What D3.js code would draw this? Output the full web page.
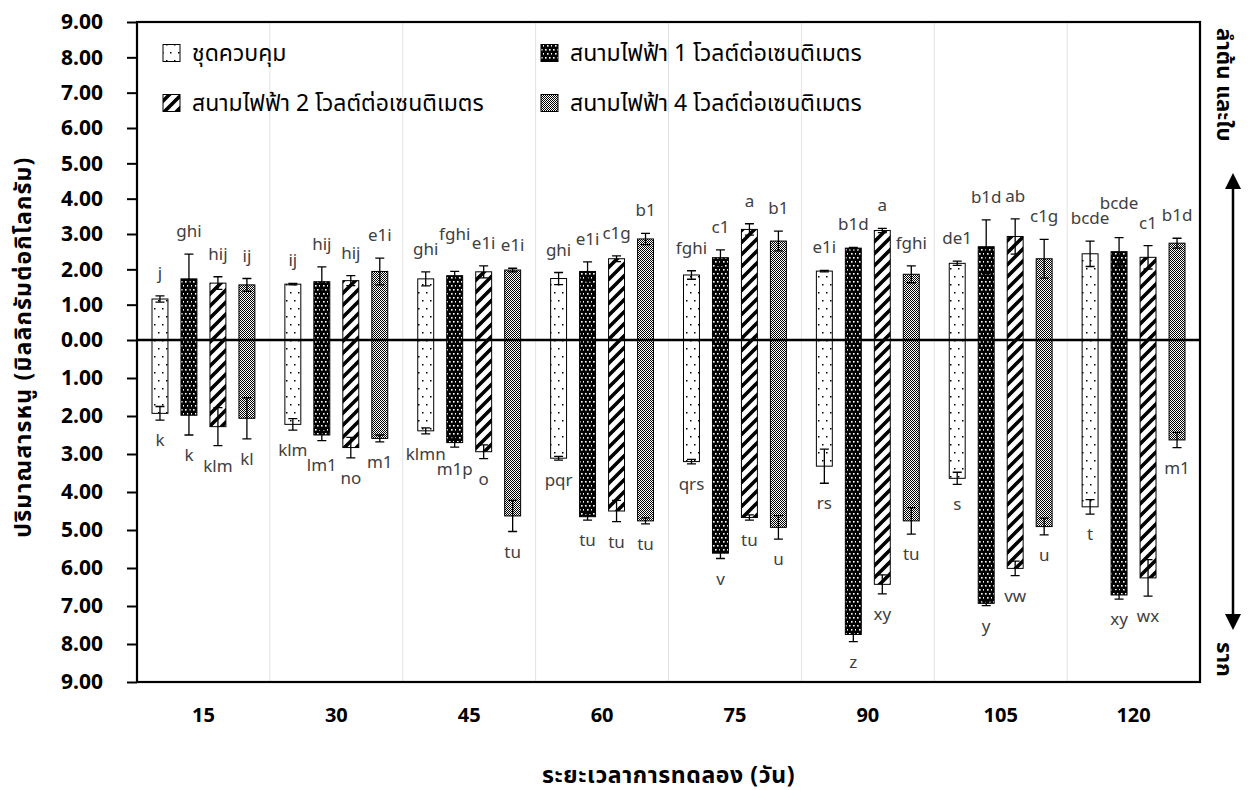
<!DOCTYPE html>
<html>
<head>
<meta charset="utf-8">
<script src="https://cdn.jsdelivr.net/npm/d3@7"></script>
<style>
  html, body { margin: 0; padding: 0; background: #fff; }
  svg { display: block; }
  text { font-family: "Noto Sans", "Noto Sans Thai", "Leelawadee UI", sans-serif; }
</style>
</head>
<body>
<svg id="chart" width="1253" height="790"></svg>
<script>
// Sampling days (groups on the x axis)
const categories = ["15", "30", "45", "60", "75", "90", "105", "120"];

// Treatments
const seriesNames = [
  "ชุดควบคุม",
  "สนามไฟฟ้า 1 โวลต์ต่อเซนติเมตร",
  "สนามไฟฟ้า 2 โวลต์ต่อเซนติเมตร",
  "สนามไฟฟ้า 4 โวลต์ต่อเซนติเมตร"
];

// Arsenic in stem + leaves (mg/kg), plotted upward
const shootControl = [1.16, 1.58, 1.73, 1.74, 1.84, 1.95, 2.17, 2.44];
const shootE1      = [1.73, 1.65, 1.82, 1.94, 2.33, 2.60, 2.64, 2.50];
const shootE2      = [1.61, 1.68, 1.93, 2.30, 3.13, 3.10, 2.93, 2.34];
const shootE4      = [1.56, 1.94, 1.98, 2.86, 2.80, 1.86, 2.30, 2.74];

const shootErrControl = [0.09, 0.02, 0.20, 0.17, 0.12, 0.02, 0.06, 0.36];
const shootErrE1      = [0.70, 0.42, 0.12, 0.27, 0.22, 0.02, 0.76, 0.40];
const shootErrE2      = [0.18, 0.14, 0.17, 0.08, 0.16, 0.06, 0.50, 0.33];
const shootErrE4      = [0.18, 0.38, 0.05, 0.16, 0.28, 0.24, 0.55, 0.14];

// Arsenic in roots (mg/kg), plotted downward
const rootControl = [1.93, 2.22, 2.39, 3.11, 3.20, 3.32, 3.64, 4.39];
const rootE1      = [1.98, 2.50, 2.70, 4.65, 5.61, 7.75, 6.93, 6.71];
const rootE2      = [2.28, 2.83, 2.94, 4.50, 4.67, 6.43, 6.01, 6.26];
const rootE4      = [2.06, 2.59, 4.63, 4.76, 4.93, 4.76, 4.91, 2.63];

const rootErrControl = [0.18, 0.15, 0.08, 0.05, 0.06, 0.45, 0.16, 0.19];
const rootErrE1      = [0.52, 0.15, 0.12, 0.09, 0.14, 0.19, 0.06, 0.11];
const rootErrE2      = [0.50, 0.27, 0.18, 0.28, 0.07, 0.25, 0.19, 0.48];
const rootErrE4      = [0.54, 0.09, 0.41, 0.08, 0.31, 0.35, 0.22, 0.20];

// Statistical grouping letters
const shootLetControl = ["j", "ij", "ghi", "ghi", "fghi", "e1i", "de1", "bcde"];
const shootLetE1      = ["ghi", "hij", "fghi", "e1i", "c1", "b1d", "b1d", "bcde"];
const shootLetE2      = ["hij", "hij", "e1i", "c1g", "a", "a", "ab", "c1"];
const shootLetE4      = ["ij", "e1i", "e1i", "b1", "b1", "fghi", "c1g", "b1d"];

const rootLetControl = ["k", "klm", "klmn", "pqr", "qrs", "rs", "s", "t"];
const rootLetE1      = ["k", "lm1", "m1p", "tu", "v", "z", "y", "xy"];
const rootLetE2      = ["klm", "no", "o", "tu", "tu", "xy", "vw", "wx"];
const rootLetE4      = ["kl", "m1", "tu", "tu", "u", "tu", "u", "m1"];

const axisTicks = [0, 1, 2, 3, 4, 5, 6, 7, 8, 9];

const xTitle = "ระยะเวลาการทดลอง (วัน)";
const yTitle = "ปริมาณสารหนู (มิลลิกรัมต่อกิโลกรัม)";
const upLabel = "ลำต้น และใบ";
const downLabel = "ราก";

// ---- build rows ----
const shoots = [shootControl, shootE1, shootE2, shootE4];
const shootErrs = [shootErrControl, shootErrE1, shootErrE2, shootErrE4];
const roots = [rootControl, rootE1, rootE2, rootE4];
const rootErrs = [rootErrControl, rootErrE1, rootErrE2, rootErrE4];
const shootLets = [shootLetControl, shootLetE1, shootLetE2, shootLetE4];
const rootLets = [rootLetControl, rootLetE1, rootLetE2, rootLetE4];

const rows = [];
categories.forEach((c, i) => {
  seriesNames.forEach((s, j) => {
    rows.push({
      cat: c, ci: i, series: s, si: j,
      shoot: shoots[j][i], shootErr: shootErrs[j][i], shootLet: shootLets[j][i],
      root: roots[j][i], rootErr: rootErrs[j][i], rootLet: rootLets[j][i]
    });
  });
});

// ---- layout ----
const svg = d3.select("#chart");
const plot = { left: 137, right: 1200, top: 22, zero: 340, bottom: 682 };

const x = d3.scaleBand().domain(categories).range([plot.left, plot.right]).padding(0);
const xs = d3.scaleBand().domain(seriesNames).range([15, x.bandwidth() - 15]).paddingInner(0.45).paddingOuter(0);
const yUp = d3.scaleLinear().domain([0, 9]).range([plot.zero, plot.top]);
const yDown = d3.scaleLinear().domain([0, 9]).range([plot.zero, plot.bottom]);

// ---- fill patterns ----
const defs = svg.append("defs");
const fills = ["url(#p-ctrl)", "url(#p-e1)", "url(#p-e2)", "url(#p-e4)"];

const pc = defs.append("pattern").attr("id", "p-ctrl").attr("patternUnits", "userSpaceOnUse")
  .attr("width", 8).attr("height", 16);
pc.append("rect").attr("width", 8).attr("height", 16).attr("fill", "#fff");
pc.append("rect").attr("x", 2).attr("y", 4).attr("width", 1.5).attr("height", 1.5).attr("fill", "#000");
pc.append("rect").attr("x", 6).attr("y", 12).attr("width", 1.5).attr("height", 1.5).attr("fill", "#000");

const p1 = defs.append("pattern").attr("id", "p-e1").attr("patternUnits", "userSpaceOnUse")
  .attr("width", 8).attr("height", 8);
p1.append("rect").attr("width", 8).attr("height", 8).attr("fill", "#000");
[[1, 1], [5, 1], [3, 5], [7, 5]].forEach(([a, b]) =>
  p1.append("rect").attr("x", a).attr("y", b).attr("width", 1.6).attr("height", 1.6).attr("fill", "#fff"));

const p2 = defs.append("pattern").attr("id", "p-e2").attr("patternUnits", "userSpaceOnUse")
  .attr("width", 12).attr("height", 12);
p2.append("rect").attr("width", 12).attr("height", 12).attr("fill", "#fff");
p2.append("path").attr("d", "M-3,3 L3,-3 M0,12 L12,0 M9,15 L15,9")
  .attr("stroke", "#000").attr("stroke-width", 3.6);

const p4 = defs.append("pattern").attr("id", "p-e4").attr("patternUnits", "userSpaceOnUse")
  .attr("width", 2).attr("height", 2);
p4.append("rect").attr("width", 2).attr("height", 2).attr("fill", "#fff");
p4.append("rect").attr("width", 1).attr("height", 1).attr("fill", "#000");
p4.append("rect").attr("x", 1).attr("y", 1).attr("width", 1).attr("height", 1).attr("fill", "#000");

// ---- vertical gridlines between groups ----
svg.append("g").selectAll("line").data(categories.slice(1)).join("line")
  .attr("x1", d => x(d)).attr("x2", d => x(d))
  .attr("y1", plot.top).attr("y2", plot.bottom)
  .attr("stroke", "#e3e3e3").attr("stroke-width", 1);

// ---- bars ----
const barG = svg.append("g");
const bx = d => x(d.cat) + xs(d.series);
const bw = xs.bandwidth();

barG.selectAll("rect.up").data(rows).join("rect").attr("class", "up")
  .attr("x", bx).attr("width", bw)
  .attr("y", d => yUp(d.shoot)).attr("height", d => yUp(0) - yUp(d.shoot))
  .attr("fill", d => fills[d.si]).attr("stroke", "#000").attr("stroke-width", 1);

barG.selectAll("rect.down").data(rows).join("rect").attr("class", "down")
  .attr("x", bx).attr("width", bw)
  .attr("y", yDown(0)).attr("height", d => yDown(d.root) - yDown(0))
  .attr("fill", d => fills[d.si]).attr("stroke", "#000").attr("stroke-width", 1);

// ---- error bars (±) ----
const cap = 4.5;
const errG = svg.append("g").attr("stroke", "#000").attr("stroke-width", 1.3).attr("fill", "none");
function errPath(cx, y1, y2) {
  return `M${cx},${y1}V${y2}M${cx - cap},${y1}H${cx + cap}M${cx - cap},${y2}H${cx + cap}`;
}
errG.selectAll("path.up").data(rows).join("path").attr("class", "up")
  .attr("d", d => errPath(bx(d) + bw / 2, yUp(d.shoot + d.shootErr), yUp(d.shoot - d.shootErr)));
errG.selectAll("path.down").data(rows).join("path").attr("class", "down")
  .attr("d", d => errPath(bx(d) + bw / 2, yDown(d.root - d.rootErr), yDown(d.root + d.rootErr)));

// ---- letter labels, staggered when neighbours collide ----
const letG = svg.append("g").attr("font-size", 17).attr("fill", "#404040").attr("text-anchor", "middle");
const upText = letG.selectAll("text.up").data(rows).join("text").attr("class", "up")
  .attr("x", d => bx(d) + bw / 2).text(d => d.shootLet);
const downText = letG.selectAll("text.down").data(rows).join("text").attr("class", "down")
  .attr("x", d => bx(d) + bw / 2).text(d => d.rootLet);

function stagger(sel, baseY, dir) {
  const items = sel.nodes().map(n => {
    const d = d3.select(n).datum();
    return { node: n, d, cx: bx(d) + bw / 2, w: n.getComputedTextLength(), y: baseY(d) };
  });
  d3.groups(items, it => it.d.ci).forEach(([, grp]) => {
    grp.sort((a, b) => a.d.si - b.d.si);
    for (let k = 1; k < grp.length; k++) {
      const a = grp[k - 1], b = grp[k];
      const hOverlap = Math.abs(b.cx - a.cx) < (a.w + b.w) / 2 + 1;
      if (hOverlap && Math.abs(b.y - a.y) < 15) b.y = a.y + dir * 15;
    }
  });
  items.forEach(it => d3.select(it.node).attr("y", it.y));
}
stagger(upText, d => yUp(d.shoot + d.shootErr) - 17, -1);
stagger(downText, d => yDown(d.root + d.rootErr) + 26, 1);

// ---- axes ----
const fmt = d3.format(".2f");
const axUp = svg.append("g").attr("transform", `translate(${plot.left},0)`)
  .call(d3.axisLeft(yUp).tickValues(axisTicks).tickSize(10).tickPadding(24).tickFormat(fmt));
const axDown = svg.append("g").attr("transform", `translate(${plot.left},0)`)
  .call(d3.axisLeft(yDown).tickValues(axisTicks.slice(1)).tickSize(10).tickPadding(24).tickFormat(fmt));
[axUp, axDown].forEach(g => {
  g.select(".domain").remove();
  g.selectAll(".tick line").attr("stroke", "#000").attr("stroke-width", 2);
  g.selectAll(".tick text").attr("font-size", 21).attr("font-weight", "bold")
    .attr("fill", "#000");
});

const axX = svg.append("g").attr("transform", `translate(0,${plot.bottom})`)
  .call(d3.axisBottom(x).tickSize(0).tickPadding(26));
axX.select(".domain").remove();
axX.selectAll(".tick text").attr("font-size", 20).attr("font-weight", "bold").attr("fill", "#000");

// frame, zero line
svg.append("rect").attr("x", plot.left).attr("y", plot.top)
  .attr("width", plot.right - plot.left).attr("height", plot.bottom - plot.top)
  .attr("fill", "none").attr("stroke", "#000").attr("stroke-width", 2.2);
svg.append("line").attr("x1", plot.left).attr("x2", plot.right)
  .attr("y1", yUp(0)).attr("y2", yUp(0)).attr("stroke", "#000").attr("stroke-width", 2.6);

// ---- legend ----
const legendPos = [[163, 53], [541, 53], [163, 103], [541, 103]];
const lg = svg.append("g");
seriesNames.forEach((s, j) => {
  const [lx, ly] = legendPos[j];
  lg.append("rect").attr("x", lx).attr("y", ly - 8.5).attr("width", 17).attr("height", 17)
    .attr("fill", fills[j]).attr("stroke", "#000").attr("stroke-width", 1);
  lg.append("text").attr("x", lx + 29).attr("y", ly + 8).attr("font-size", 23).attr("fill", "#000").text(s);
});

// ---- titles ----
svg.append("text").attr("x", (plot.left + plot.right) / 2).attr("y", 783)
  .attr("text-anchor", "middle").attr("font-size", 23).attr("font-weight", "bold")
  .attr("letter-spacing", 0.6).text(xTitle);
svg.append("text").attr("transform", "translate(31,347) rotate(-90)")
  .attr("text-anchor", "middle").attr("font-size", 23).attr("font-weight", "bold")
  .attr("letter-spacing", 1.2).text(yTitle);

// ---- right-side direction arrow ----
const ax0 = 1233;
svg.append("line").attr("x1", ax0).attr("x2", ax0).attr("y1", 185).attr("y2", 618)
  .attr("stroke", "#000").attr("stroke-width", 2.5);
svg.append("path").attr("d", `M${ax0},173 L${ax0 - 8},189 L${ax0 + 8},189 Z`).attr("fill", "#000");
svg.append("path").attr("d", `M${ax0},630 L${ax0 - 8},614 L${ax0 + 8},614 Z`).attr("fill", "#000");
svg.append("text").attr("transform", "translate(1217,28) rotate(90)")
  .attr("text-anchor", "start").attr("font-size", 22).attr("font-weight", "bold").text(upLabel);
svg.append("text").attr("transform", "translate(1217,642) rotate(90)")
  .attr("text-anchor", "start").attr("font-size", 22).attr("font-weight", "bold").text(downLabel);
</script>
</body>
</html>
